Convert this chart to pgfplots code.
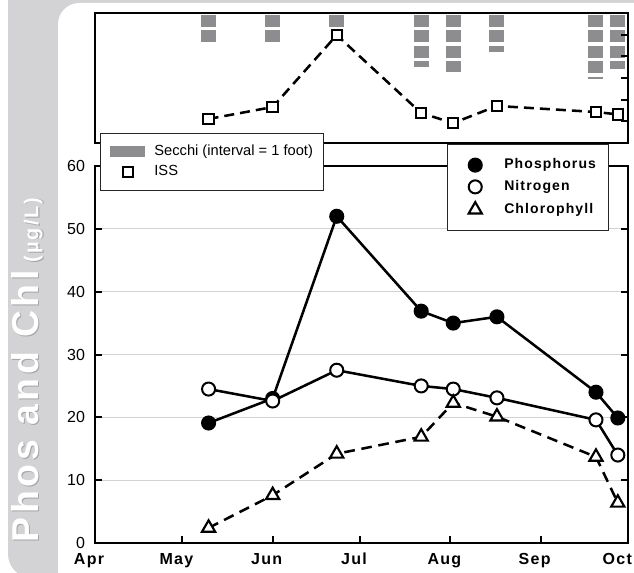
\documentclass[border=0pt]{standalone}
\usepackage{fontspec}
\setmainfont{Liberation Sans}
\usepackage{pgfplots}
\pgfplotsset{compat=1.18}
\definecolor{bggray}{RGB}{211,211,213}
\definecolor{secchi}{RGB}{141,141,143}
\definecolor{gridgray}{RGB}{210,210,210}
\definecolor{shadowgray}{RGB}{165,165,168}
\newcommand{\ylabtext}{{\fontsize{28}{28}\selectfont\bfseries\addfontfeatures{LetterSpace=10}Phos and Chl}\hspace{6pt}{\fontsize{15}{15}\selectfont\bfseries\addfontfeatures{LetterSpace=10}(µg/L)}}

\pgfplotsset{
  markimg/.style={legend image code/.code={\path[draw=none,fill=none] (-12pt,0pt) -- (5.25pt,0pt); \draw[##1] plot coordinates {(0pt,0pt)};}},
  issimg/.style={legend image code/.code={\path[draw=none,fill=none] (0pt,0pt) -- (25.5pt,0pt); \draw[##1] plot coordinates {(12.75pt,0pt)};}},
  secchiimg/.style={legend image code/.code={\fill[secchi] (0pt,-3.75pt) rectangle (25.5pt,3.75pt);}},
}

\pgfplotstableread{
x iss secchi
39 1.11 1.9
61 1.66 1.9
83 4.98 1.0
112 1.38 3.35
123 0.92 3.7
138 1.71 2.4
172 1.43 4.15
179.5 1.32 3.5
}\toptab

\pgfplotstableread{
x phos nitro chl
39 19.1 24.5 2.4
61 23.0 22.6 7.6
83 52.0 27.5 14.2
112 36.9 25.0 16.9
123 35.0 24.5 22.3
138 36.0 23.1 20.1
172 24.0 19.6 13.7
179.5 19.9 14.0 6.4
}\maintab

\begin{document}
\begin{tikzpicture}
\useasboundingbox (0,0) rectangle (475.5pt,429pt);
\begin{scope}[x=0.75pt,y=-0.75pt,shift={(0pt,429pt)}]
  \clip (0,0) rectangle (634,572);
  \fill[white] (0,0) rectangle (634,572);
  \fill[bggray, rounded corners=18] (8,-40) rectangle (700,578);
  \fill[white, rounded corners=16] (58,3) rectangle (700,700);
  \node[rotate=90, text=shadowgray, inner sep=0pt] at (28.3,370.8) {\ylabtext};
  \node[rotate=90, text=white, inner sep=0pt] at (27,370) {\ylabtext};
\end{scope}

% main axis
\begin{axis}[
  at={(71.25pt,21.75pt)}, anchor=south west, scale only axis,
  width=399.75pt, height=282.75pt,
  xmin=0, xmax=183, ymin=0, ymax=60,
  xtick={0,30,61,91,122,153,183},
  xticklabels={Apr,May,Jun,Jul,Aug,Sep,{\kern-7pt Oct}},
  xtick pos=bottom,
  ytick={0,10,20,30,40,50,60}, ytick pos=both,
  tick align=inside, major tick length=5pt,
  every tick/.style={black, line width=1.5pt},
  axis line style={black, line width=1.7pt},
  ymajorgrids, grid style={gridgray, line width=0.7pt},
  /pgf/number format/assume math mode=true,
  yticklabel style={font=\fontsize{12}{14}\selectfont, xshift=-4pt},
  xticklabel style={font=\fontsize{12}{14}\selectfont\bfseries\addfontfeatures{LetterSpace=8}, xshift=-4.5pt, yshift=-4pt},
  clip=false,
  legend style={at={(0.660,1.058)}, anchor=north west, draw=black!85, line width=0.7pt, fill=white,
    font=\fontsize{10.5}{12}\selectfont\bfseries\addfontfeatures{LetterSpace=8},
    inner xsep=9pt, inner ysep=10.5pt, row sep=6.5pt, column sep=16.5pt,
    nodes={inner sep=0pt, anchor=west, text height=7.5pt, text depth=2pt}},
  legend cell align=left,
]
\addplot[black, line width=1.9pt, mark=*, mark size=4.9pt, mark options={solid, fill=black, line width=1.5pt}, markimg]
  table[x=x, y=phos] {\maintab};
\addlegendentry{Phosphorus}
\addplot[black, line width=1.9pt, mark=*, mark size=4.9pt, mark options={solid, fill=white, line width=1.5pt}, markimg]
  table[x=x, y=nitro] {\maintab};
\addlegendentry{Nitrogen}
\addplot[black, line width=1.9pt, dash pattern=on 8pt off 5pt, mark=triangle*, mark size=5.7pt, mark options={solid, fill=white, line width=1.6pt}, markimg]
  table[x=x, y=chl] {\maintab};
\addlegendentry{Chlorophyll}
\end{axis}

% secchi bars
\begin{axis}[
  at={(71.25pt,321.75pt)}, anchor=south west, scale only axis,
  width=399.75pt, height=97.5pt,
  xmin=0, xmax=183, ymin=-0.129, ymax=8.258, y dir=reverse,
  hide axis, clip=false,
]
\addplot[ycomb, no markers, secchi, line width=11.25pt, dash pattern=on 8.8pt off 2.825pt]
  table[x=x, y=secchi] {\toptab};
\end{axis}

% ISS
\begin{axis}[
  at={(71.25pt,321.75pt)}, anchor=south west, scale only axis,
  width=399.75pt, height=97.5pt,
  xmin=0, xmax=183, ymin=0, ymax=6,
  xtick=\empty, ytick={1,2,3,4,5}, yticklabels={}, ytick pos=right,
  tick align=inside, major tick length=5pt,
  every tick/.style={black, line width=1.5pt},
  axis line style={black, line width=1.7pt},
  clip=false,
  legend style={at={(0.0094,0.077)}, anchor=north west, draw=black!85, line width=0.7pt, fill=white,
    font=\fontsize{11}{13}\selectfont,
    inner xsep=7.5pt, inner ysep=9pt, row sep=5.5pt, column sep=6.75pt,
    nodes={inner sep=0pt, anchor=west, text height=7.5pt, text depth=2pt}},
  legend cell align=left,
]
\addlegendimage{secchiimg}
\addlegendentry{Secchi (interval = 1 foot)}
\addplot[black, line width=1.9pt, dash pattern=on 7.5pt off 4.5pt, mark=square*, mark size=3.9pt, mark options={solid, fill=white, line width=1.5pt}, issimg]
  table[x=x, y=iss] {\toptab};
\addlegendentry{ISS}
\end{axis}
\end{tikzpicture}
\end{document}
